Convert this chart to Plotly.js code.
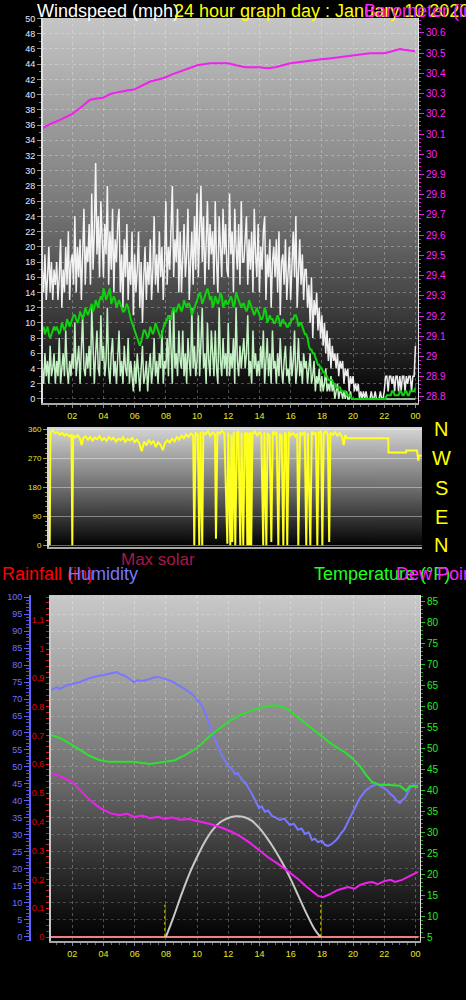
<!DOCTYPE html>
<html><head><meta charset="utf-8">
<script src="https://cdn.plot.ly/plotly-3.0.1.min.js"></script>
<style>html,body{margin:0;padding:0;background:#000;overflow:hidden}#chart{width:466px;height:1000px}</style>
</head><body><div id="chart"></div>
<script>
// ---------------- DATA ----------------
const xTickVals = [2,4,6,8,10,12,14,16,18,20,22,24];
const xTickText = ['02','04','06','08','10','12','14','16','18','20','22','00'];

// wind samples every 5 minutes starting at 00:05
const windStartHour = 0.08;
const windStepMinutes = 5;
const windGust = [
 17,14,19,13,16,20,14,18,13,17,15,
 18,13,16,21,12,17,14,20,15,22,13,18,
 19,15,24,14,20,16,21,13,18,25,15,20,
 18,23,15,27,17,22,31,19,24,16,26,20,
 16,23,19,28,15,22,17,25,14,21,18,23,
 25,14,19,12,21,16,23,13,18,15,22,11,
 19,14,17,22,12,18,10,16,20,13,18,15,
 21,13,17,24,15,19,14,22,16,20,13,18,
 26,15,20,17,24,28,16,21,18,25,14,22,
 14,20,23,16,19,25,13,18,22,15,24,17,
 27,16,22,28,18,24,15,21,26,17,23,19,
 22,15,26,18,14,24,20,16,25,19,23,17,
 16,27,19,22,14,25,20,17,23,15,26,18,
 18,22,24,15,21,17,22,14,25,19,16,23,
 14,20,17,22,24,13,19,16,21,12,18,20,
 16,21,14,22,11,18,19,15,21,13,17,20,
 13,19,22,16,24,12,18,21,15,19,13,17,
 17,12,15,10,16,8,13,11,14,9,12,8,
 11,7,10,6,9,5,8,4,7,5,6,4,
 6,3,5,4,5,2,4,3,4,1,3,2,
 3,1,2,1,2,0,1,0,1,0,1,0,
 0,0,1,0,0,1,0,0,0,1,0,0,
 1,3,3,1,3,3,2,3,1,3,3,1,
 3,1,3,3,1,3,2,3,3,1,3,3,
 7];
const windSpeed = [
 4,2,6,3,5,2,7,3,4,6,2,
 5,3,8,2,4,6,3,9,4,2,5,3,
 6,4,10,3,5,7,2,6,11,4,3,6,
 4,7,3,12,5,2,6,9,4,3,11,5,
 7,3,5,12,4,2,6,8,3,5,2,6,
 9,3,5,2,7,4,3,8,2,5,3,1,
 5,2,6,3,1,4,7,2,3,5,1,4,
 6,2,4,8,3,5,2,6,4,9,2,5,
 4,8,3,11,5,2,12,4,6,3,9,5,
 4,9,3,6,2,8,5,3,12,4,7,3,
 5,11,3,7,12,4,6,2,10,5,3,9,
 6,3,9,4,2,12,5,3,8,4,6,3,
 10,3,6,4,8,2,12,5,3,7,4,6,
 8,4,6,11,3,5,2,9,4,6,3,5,
 3,7,4,9,2,5,8,3,6,2,9,4,
 5,2,6,3,8,4,2,5,7,3,4,2,
 7,3,5,9,2,4,8,3,5,2,6,4,
 5,2,4,6,2,3,5,1,3,2,4,1,
 3,1,2,4,1,2,1,3,1,2,0,1,
 2,0,1,1,0,1,0,1,0,0,1,0,
 0,0,0,0,0,0,0,0,0,0,0,0,
 0,0,0,0,0,0,0,0,0,0,0,0,
 0,0,0,0,0,0,0,0,0,0,0,0,
 0,0,0,0,0,0,0,0,0,0,0,0,
 0];
const windAvg = [
 9,9.5,8.5,9,9.5,8.5,8,8.5,9,9.5,9,
 9.5,9,8.5,9,10,9.5,9,9.5,10.5,10,9.5,10,
 10.5,11,11,10.5,10,10.5,11.5,11,10.5,11,12,11.5,
 11,11.5,12,12.5,11.5,12,13,12.5,12,13,13.5,13,
 14.5,14,13,13.5,14,14.5,12.5,13,13.5,13,12,12.5,
 13,12.5,12,11.5,11.5,12,12.5,12,11,10.5,10,9.5,
 9,8.5,8,7.5,7,7.5,8.5,9,9,8.5,8,8.5,
 9.5,9,8.5,9,10,9.5,9,8.5,8,8.5,9.5,10,
 10,10.5,11,10.5,10.5,11.5,12,11.5,11.5,12,12.5,12,
 11.5,12,13,12.5,12,12.5,12.5,12,11,11.5,12,12.5,
 13,13.5,14,13.5,12.5,13,13.5,14,14.5,14,13,13.5,
 12,12.5,13.5,13,12.5,13,14,13.5,12,12.5,13,12.5,
 12.5,13,13.5,13,12,12.5,14,13.5,13,12.5,12,12.5,
 12.5,12,11.5,12,13,12.5,12,11.5,11,11.5,12,11.5,
 11,10.5,10.5,11,12,11.5,10,10.5,11,10.5,10.5,10,
 10,10.5,11,10.5,9.5,10,10.5,10,10,9.5,9.5,10,
 10,10.5,10.5,11,11,10.5,9.5,10,10,9.5,9,8.5,
 8.5,8,7,6.5,6.5,6,6,5.5,5,4.5,4.5,4,
 4,3.5,3.5,3,3,2.5,2.5,2.5,2.5,2,2,1.5,
 1.5,1.5,1.5,1,1,1,1,0.5,0.5,0.5,0.5,0,
 0,0,0,0,0,0,0,0,0,0,0,0,
 0,0,0,0,0,0,0,0,0,0,0,0,
 0,0,0.5,0.5,0.5,0.5,1,1,0.5,0.5,0.5,0.5,
 1,1,0.5,0.5,1,1,0.5,0.5,1,1,1,1,
 1.5];

const pressTime = [0.12,0.6,1.21,1.6,2.0,2.6,3.14,3.5,3.97,4.5,5.06,5.5,5.96,6.5,6.99,7.5,7.95,8.4,8.92,9.5,10.01,10.4,10.84,11.4,12.0,12.5,13.08,13.5,13.98,14.5,15.01,15.5,15.97,16.5,16.94,17.5,17.96,18.6,19.18,19.95,20.5,21.1,21.6,22.0,22.5,23.0,23.5,23.96];
const pressIn = [30.13,30.15,30.17,30.185,30.2,30.235,30.27,30.275,30.28,30.3,30.31,30.315,30.32,30.34,30.36,30.37,30.38,30.395,30.41,30.425,30.44,30.445,30.45,30.45,30.45,30.44,30.43,30.43,30.43,30.425,30.43,30.44,30.45,30.455,30.46,30.465,30.47,30.475,30.48,30.49,30.495,30.5,30.5,30.5,30.51,30.52,30.515,30.51];

const dirTime = [0.55,0.6,0.75,0.9,1.05,1.2,1.35,1.5,1.65,1.8,1.95,2.0,2.05,2.2,2.35,2.5,2.6,2.7,2.85,3.0,3.15,3.3,3.45,3.6,3.75,3.9,4.05,4.2,4.35,4.5,4.65,4.8,4.95,5.1,5.25,5.4,5.55,5.7,5.85,6.0,6.15,6.3,6.45,6.6,6.75,6.9,7.05,7.2,7.35,7.5,7.65,7.8,7.95,8.1,8.25,8.4,8.55,8.7,8.85,9.0,9.15,9.3,9.45,9.6,9.75,9.82,9.9,10.05,10.14,10.22,10.33,10.4,10.55,10.7,10.85,11.0,11.15,11.21,11.3,11.45,11.6,11.75,11.94,12.0,12.13,12.2,12.26,12.35,12.45,12.55,12.65,12.77,12.85,12.96,13.05,13.15,13.22,13.28,13.35,13.41,13.47,13.55,13.7,13.85,14.0,14.12,14.24,14.32,14.44,14.52,14.65,14.76,14.85,15.0,15.1,15.21,15.3,15.42,15.53,15.62,15.7,15.78,15.88,16.0,16.15,16.3,16.42,16.49,16.6,16.75,16.9,17.0,17.1,17.26,17.35,17.5,17.62,17.71,17.8,17.95,18.03,18.12,18.25,18.38,18.47,18.55,18.7,18.85,19.0,19.15,19.3,19.4,19.5,19.6,22.26,22.27,23.4,23.41,24.1,24.12,24.18,24.22,24.4];
const dirDeg = [0,352,355,348,351,343,349,340,346,338,344,0,341,335,342,330,311,333,338,328,336,325,334,329,338,326,333,324,336,328,334,322,331,326,335,321,330,325,333,320,328,316,292,322,310,327,315,324,305,320,312,295,318,326,319,331,323,336,328,340,332,344,336,347,341,0,350,343,0,352,0,349,345,354,340,350,344,20,352,346,355,348,5,350,0,344,10,352,0,347,354,0,350,0,345,351,0,348,0,352,0,346,353,341,350,344,0,351,0,348,340,10,352,345,353,0,347,340,0,350,344,0,352,341,349,338,347,0,351,343,353,0,348,0,352,345,350,0,349,354,0,347,353,344,10,350,343,351,340,348,337,311,342,332,332,288,288,294,294,278,263,278,278];

const humTime = [0.63,1.0,1.21,1.6,2.0,2.5,2.8,3.13,3.5,3.97,4.42,4.87,5.1,5.38,5.7,5.96,6.2,6.47,6.98,7.2,7.49,7.94,8.3,8.58,9.0,9.22,9.67,9.99,10.2,10.38,10.7,10.96,11.28,11.6,11.8,11.98,12.2,12.43,12.6,12.88,13.1,13.39,13.55,13.71,13.97,14.15,14.35,14.55,14.8,15.05,15.31,15.6,15.95,16.2,16.47,16.7,16.92,17.15,17.37,17.55,17.75,18.0,18.2,18.4,18.65,18.85,19.03,19.2,19.42,19.6,19.8,20.12,20.44,20.83,21.0,21.22,21.6,21.8,21.99,22.2,22.37,22.6,22.76,23.0,23.15,23.33,23.5,23.65,23.9,24.16];
const humPct = [72.6,73.4,73.0,74.0,74.4,75.0,75.6,76.2,76.6,77.1,77.6,77.9,77.2,76.8,75.8,75.0,75.6,75.3,75.9,76.3,76.5,75.9,75.4,74.7,73.6,72.9,71.5,69.7,68.8,67.4,63.8,60.0,56.5,53.2,51.9,50.3,49.6,47.9,48.3,46.2,45.4,43.2,41.8,40.3,37.9,38.4,36.8,37.2,35.6,35.1,34.4,34.8,32.9,33.3,31.5,31.9,30.3,30.8,28.5,28.9,27.9,28.3,27.1,26.8,27.4,28.2,29.1,30.3,31.5,33.2,35.0,37.9,40.9,43.2,43.8,44.4,45.0,44.2,43.8,43.1,42.1,41.3,40.3,39.4,40.2,40.9,42.5,43.8,44.7,44.4];

const tempTime = [0.63,1.21,2.0,2.5,3.13,3.78,4.42,5.06,5.96,6.98,7.94,8.58,9.22,9.99,10.83,11.47,11.98,12.62,13.26,13.97,14.55,15.06,15.51,15.95,16.6,17.24,17.94,18.71,19.48,19.93,20.44,20.83,21.22,21.73,22.37,23.0,23.4,23.65,24.16];
const tempF = [53.1,52.4,50.7,49.5,48.1,47.1,46.7,46.7,46.7,46.2,46.7,47.1,48.3,50.0,52.9,54.8,56.2,57.6,58.6,59.5,60.0,60.2,59.8,58.8,56.9,55.0,52.9,50.7,49.0,47.6,45.7,43.6,41.9,41.2,41.2,41.0,39.8,41.0,40.7];

const dewTime = [0.63,1.21,2.0,2.5,3.13,3.78,4.42,5.06,5.5,5.96,6.5,6.98,7.5,7.94,8.4,8.9,9.5,9.99,10.83,11.6,12.24,12.75,13.39,13.97,14.55,15.19,15.83,16.47,16.98,17.43,17.75,18.07,18.52,19.03,19.67,20.1,20.44,20.9,21.22,21.6,21.99,22.4,22.69,23.14,23.65,24.16];
const dewF = [44.0,43.3,41.9,40.0,37.6,35.7,34.5,34.0,34.4,33.6,33.9,33.3,33.6,33.1,33.5,32.9,33.1,32.6,31.9,31.0,30.0,29.0,27.4,25.7,24.0,22.4,20.7,18.8,17.1,15.7,14.8,14.5,15.2,16.2,16.9,16.5,17.4,17.9,18.1,17.6,18.3,18.6,18.1,18.6,19.5,20.5];

const solarTime = [8.0,8.5,9.0,9.5,10.0,10.5,11.0,11.5,12.0,12.5,13.0,13.5,14.0,14.5,15.0,15.5,16.0,16.5,17.0,17.5,17.9];
const maxSolar = [0,6,12.5,18.5,23.5,28,31.5,33.8,35,35.5,35.3,34.2,32,29,25.5,21.5,17,12,7,2.5,0];

const rainTime = [0.635,24.2];
const rainIn = [0,0];

const sunEvents = [7.94,17.94];
const sunMarkHeight = 9.5;

// ---------------- BUILD ----------------
const W = 466, H = 1000;
const px = x => x / W, py = y => 1 - y / H;
const windTime = windGust.map((_, i) => windStartHour + i * windStepMinutes / 60);

function grad(stops) {
  const c = document.createElement('canvas'); c.width = 4; c.height = 256;
  const g = c.getContext('2d'); const lg = g.createLinearGradient(0, 0, 0, 256);
  stops.forEach(s => lg.addColorStop(s[0], s[1])); g.fillStyle = lg; g.fillRect(0, 0, 4, 256);
  return c.toDataURL();
}
function bgImage(x0, y0, x1, y1, stops) {
  return {source: grad(stops), xref: 'paper', yref: 'paper', x: px(x0), y: py(y0),
    sizex: (x1 - x0) / W, sizey: (y1 - y0) / H, sizing: 'stretch', xanchor: 'left', yanchor: 'top', layer: 'below'};
}
const FONT = 'Liberation Sans, Arial, sans-serif';

const traces = [
  {x: windTime, y: windGust, xaxis: 'x', yaxis: 'y', mode: 'lines', line: {color: 'rgba(255,255,255,0.92)', width: 1.5}},
  {x: windTime, y: windSpeed, xaxis: 'x', yaxis: 'y', mode: 'lines', line: {color: '#c4f2c4', width: 1.5}},
  {x: windTime, y: windAvg, xaxis: 'x', yaxis: 'y', mode: 'lines', line: {color: '#10d010', width: 2}},
  {x: pressTime, y: pressIn, xaxis: 'x', yaxis: 'y2', mode: 'lines', line: {color: '#f020f0', width: 2}},
  {x: dirTime, y: dirDeg, xaxis: 'x2', yaxis: 'y3', mode: 'lines', line: {color: '#ffff20', width: 2}},
  {x: rainTime, y: rainIn, xaxis: 'x3', yaxis: 'y5', mode: 'lines', line: {color: '#f08080', width: 2}},
  {x: solarTime, y: maxSolar, xaxis: 'x3', yaxis: 'y4', mode: 'lines', line: {color: '#c8c8c8', width: 2, shape: 'spline'}},
  {x: tempTime, y: tempF, xaxis: 'x3', yaxis: 'y6', mode: 'lines', line: {color: '#30e030', width: 2}},
  {x: humTime, y: humPct, xaxis: 'x3', yaxis: 'y4', mode: 'lines', line: {color: '#7878ff', width: 2}},
  {x: dewTime, y: dewF, xaxis: 'x3', yaxis: 'y6', mode: 'lines', line: {color: '#f020f0', width: 2}}
];
sunEvents.forEach(t => traces.push({x: [t, t], y: [0, sunMarkHeight], xaxis: 'x3', yaxis: 'y4', mode: 'lines', line: {color: '#ffff00', width: 1, dash: 'dot'}}));
traces.forEach(t => { t.hoverinfo = 'skip'; t.showlegend = false; });

const gridDot = {showgrid: true, gridcolor: 'rgba(255,255,255,0.28)', griddash: 'dot', gridwidth: 1};
const xCommon = Object.assign({tickmode: 'array', tickvals: xTickVals, ticktext: xTickText, zeroline: false,
  tickfont: {family: FONT, size: 9, color: '#e8e820'}, ticks: 'outside', ticklen: 3, tickcolor: '#888',
  showline: true, linecolor: '#a8a8a8', linewidth: 2,
  minor: {dtick: 0.5, tick0: 0, ticks: 'outside', ticklen: 2, tickcolor: '#666', showgrid: false}}, gridDot);

const layout = {
  width: W, height: H, margin: {l: 0, r: 0, t: 0, b: 0},
  paper_bgcolor: '#000', plot_bgcolor: 'rgba(0,0,0,0)', showlegend: false,
  xaxis: Object.assign({}, xCommon, {domain: [px(43), px(418)], range: [0.122, 24.16], anchor: 'y'}),
  yaxis: Object.assign({domain: [py(403), py(18)], range: [-0.53, 50.07], anchor: 'x', tick0: 0, dtick: 2, zeroline: false,
    tickfont: {family: FONT, size: 9, color: '#e6ecff'}, ticks: 'outside', ticklen: 4, tickcolor: '#909090',
    showline: true, linecolor: '#e0e0e0', linewidth: 2,
    minor: {dtick: 1, tick0: 0, ticks: 'outside', ticklen: 2, tickcolor: '#707070', showgrid: false}}, gridDot),
  yaxis2: {overlaying: 'y', side: 'right', anchor: 'x', range: [28.77, 30.674], tick0: 28.8, dtick: 0.1, showgrid: false, zeroline: false,
    tickfont: {family: FONT, size: 10, color: '#ff20ff'}, ticks: 'outside', ticklen: 5, tickcolor: '#e020e0',
    showline: true, linecolor: '#e8e8e8', linewidth: 1,
    minor: {dtick: 0.02, tick0: 28.8, ticks: 'outside', ticklen: 2, tickcolor: '#c020c0', showgrid: false}},
  xaxis2: {domain: [px(49), px(422)], range: [0.506, 24.42], anchor: 'y3', showticklabels: false, ticks: '', showgrid: false,
    zeroline: false, showline: true, linecolor: '#a8a8a8', linewidth: 2},
  yaxis3: {domain: [py(547), py(427)], range: [-5.3, 367], anchor: 'x2', tickmode: 'array', tickvals: [0, 90, 180, 270, 360], zeroline: false,
    tickfont: {family: FONT, size: 8, color: '#e0e040'}, ticks: 'outside', ticklen: 4, tickcolor: '#a0a040',
    showline: true, linecolor: '#d8d8d8', linewidth: 2, showgrid: true, gridcolor: 'rgba(255,255,255,0.4)', gridwidth: 1,
    minor: {dtick: 15, tick0: 0, ticks: 'outside', ticklen: 2, tickcolor: '#909040', showgrid: false}},
  xaxis3: Object.assign({}, xCommon, {domain: [px(51), px(420)], range: [0.635, 24.29], anchor: 'y5'}),
  yaxis5: {domain: [py(941), py(595)], range: [-0.0139, 1.1875], anchor: 'x3', side: 'left', tick0: 0, dtick: 0.1, zeroline: false, showgrid: false,
    tickfont: {family: FONT, size: 9, color: '#e00000'}, ticks: 'outside', ticklen: 3, tickcolor: '#e02020',
    showline: true, linecolor: '#c8c8c8', linewidth: 2,
    minor: {dtick: 0.02, tick0: 0, ticks: 'outside', ticklen: 3, tickcolor: '#c02020', showgrid: false}},
  yaxis4: Object.assign({overlaying: 'y5', anchor: 'free', position: px(30), side: 'left', range: [-1.2, 100.6], tick0: 0, dtick: 5, zeroline: false,
    tickfont: {family: FONT, size: 9, color: '#7070ff'}, ticks: 'outside', ticklen: 5, tickcolor: '#6060ff',
    showline: true, linecolor: '#6464ff', linewidth: 2,
    minor: {dtick: 1, tick0: 0, ticks: 'outside', ticklen: 3, tickcolor: '#5050e0', showgrid: false}}, gridDot, {gridcolor: 'rgba(255,255,255,0.2)'}),
  yaxis6: {overlaying: 'y5', side: 'right', anchor: 'x3', range: [4.05, 86.43], tick0: 5, dtick: 5, showgrid: false, zeroline: false,
    tickfont: {family: FONT, size: 10, color: '#20ee20'}, ticks: 'outside', ticklen: 4, tickcolor: '#20c020',
    showline: true, linecolor: '#e0e0e0', linewidth: 1,
    minor: {dtick: 1, tick0: 5, ticks: 'outside', ticklen: 2, tickcolor: '#20a020', showgrid: false}},
  images: [
    bgImage(43, 18, 418, 403, [[0, '#c6c6c6'], [0.45, '#808080'], [0.75, '#404040'], [1, '#000000']]),
    bgImage(49, 427, 422, 547, [[0, '#d6d6d6'], [0.5, '#707070'], [1, '#000000']]),
    bgImage(51, 595, 420, 941, [[0, '#cacaca'], [0.5, '#747474'], [0.8, '#2c2c2c'], [1, '#000000']])
  ],
  annotations: []
};

function label(text, x, y, color, size, anchor) {
  layout.annotations.push({text: text, xref: 'paper', yref: 'paper', x: px(x), y: py(y), xanchor: anchor || 'left', yanchor: 'middle',
    showarrow: false, font: {family: FONT, size: size, color: color}});
}
label('Windspeed (mph)', 35, 11, '#ffffff', 18);
label('24 hour graph day : January 10 2020', 172, 11, '#ffff00', 18);
label('Barometer (in)', 362, 11, '#ff20ff', 18);
[['N', 429], ['W', 458], ['S', 488], ['E', 517], ['N', 545]].forEach(d => label(d[0], 441, d[1], '#ffff00', 20, 'center'));
label('Max solar', 119, 559, '#a8184a', 17);
label('Rainfall (in)', 0, 574, '#ff0000', 18);
label('Humidity', 66, 574, '#7878ff', 18);
label('Temperature (°F)', 312, 574, '#20ff20', 18);
label('Dew Point (°F)', 394, 574, '#ff20ff', 18);

Plotly.newPlot('chart', traces, layout, {staticPlot: true, displayModeBar: false});
</script></body></html>
